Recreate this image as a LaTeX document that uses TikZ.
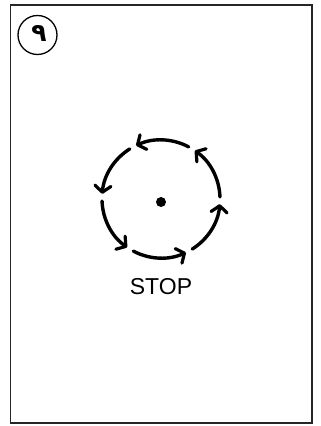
\documentclass[tikz,border=0pt]{standalone}
\usepackage{fontspec}
\setmainfont{Liberation Sans}
\newfontfamily\arabicfont[Script=Arabic]{DejaVu Sans}
\TeXXeTstate=1
\usetikzlibrary{arrows.meta,calc}
\begin{document}
\begin{tikzpicture}[x=1pt,y=1pt,
  frame/.style={draw=black!85,line width=1.5pt},
  cyc/.style={line width=3.4pt,line cap=round,
    -{Straight Barb[length=6.5pt,width=16pt,line width=3.2pt,round]}},
  lbl/.style={font=\fontsize{23}{23}\selectfont,inner sep=0pt}]
\useasboundingbox (0,0) rectangle (321,426);
\draw[frame] (10.7,3) rectangle (312,421);
\node[draw,circle,line width=1.3pt,minimum size=39pt,inner sep=0pt] (num) at (37.5,391) {};
\node[inner sep=0pt,font=\arabicfont\bfseries\fontsize{25}{25}\selectfont] (digit) at (39,392) {\beginR ٩\endR};
\coordinate (c) at (161,227);
\fill (161,224) circle[radius=5pt];
\foreach \k in {0,...,5}{
  \draw[cyc] ($(c)+({60*\k+2}:59)$) arc[start angle={60*\k+2}, end angle={60*\k+55}, radius=59];
}
\node[lbl] (stop) at (161,139) {STOP};
\end{tikzpicture}
\end{document}
